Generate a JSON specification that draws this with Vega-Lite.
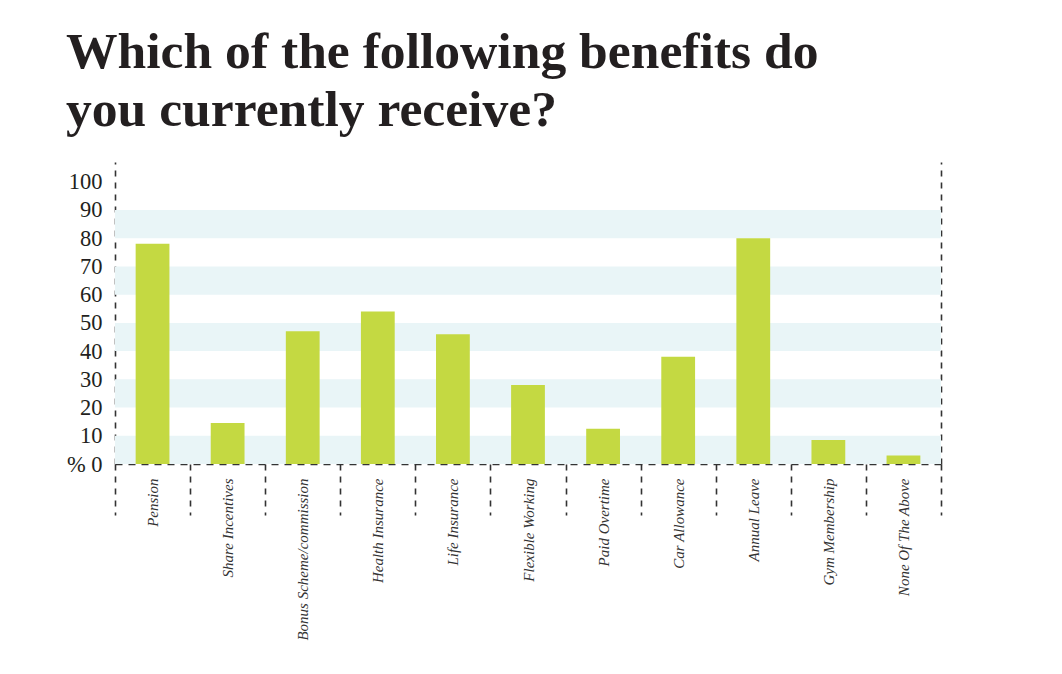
{
  "$schema": "https://vega.github.io/schema/vega-lite/v6.json",
  "autosize": "none",
  "width": 826,
  "height": 302,
  "padding": {"left": 115, "top": 162, "right": 121, "bottom": 210},
  "background": "white",
  "title": {
    "text": ["Which of the following benefits do", "you currently receive?"],
    "anchor": "start",
    "frame": "group",
    "font": "Liberation Serif",
    "fontSize": 51.6,
    "fontWeight": "bold",
    "color": "#231f20",
    "lineHeight": 58,
    "dx": -49,
    "offset": 25
  },
  "config": {"view": {"stroke": null}},
  "datasets": {
    "bands": [
      {"lo": 0, "hi": 10},
      {"lo": 20, "hi": 30},
      {"lo": 40, "hi": 50},
      {"lo": 60, "hi": 70},
      {"lo": 80, "hi": 90}
    ],
    "benefits": [
      {"benefit": "Pension", "pct": 78},
      {"benefit": "Share Incentives", "pct": 14.5},
      {"benefit": "Bonus Scheme/commission", "pct": 47},
      {"benefit": "Health Insurance", "pct": 54},
      {"benefit": "Life Insurance", "pct": 46},
      {"benefit": "Flexible Working", "pct": 28},
      {"benefit": "Paid Overtime", "pct": 12.5},
      {"benefit": "Car Allowance", "pct": 38},
      {"benefit": "Annual Leave", "pct": 80},
      {"benefit": "Gym Membership", "pct": 8.5},
      {"benefit": "None Of The Above", "pct": 3}
    ]
  },
  "layer": [
    {
      "data": {"name": "bands"},
      "mark": {"type": "rect", "color": "#e9f5f7"},
      "encoding": {
        "y": {
          "field": "lo",
          "type": "quantitative",
          "scale": {"domain": [0, 107], "nice": false, "zero": true},
          "axis": {
            "title": null,
            "orient": "left",
            "values": [0, 10, 20, 30, 40, 50, 60, 70, 80, 90, 100],
            "labelExpr": "datum.value == 0 ? '% 0' : datum.label",
            "ticks": false,
            "grid": false,
            "labelPadding": 13,
            "labelFont": "Liberation Serif",
            "labelFontSize": 22.5,
            "labelColor": "#231f20",
            "domainColor": "#333333",
            "domainWidth": 1.6,
            "domainDash": [6, 6]
          }
        },
        "y2": {"field": "hi"}
      }
    },
    {
      "data": {"name": "benefits"},
      "mark": {"type": "bar", "color": "#c4d942", "width": {"band": 0.45}},
      "encoding": {
        "x": {
          "field": "benefit",
          "type": "nominal",
          "sort": null,
          "scale": {"paddingInner": 0, "paddingOuter": 0},
          "axis": {
            "title": null,
            "labelAngle": 270,
            "tickBand": "extent",
            "tickSize": 51,
            "tickDash": [6, 6],
            "tickColor": "#333333",
            "tickWidth": 1.6,
            "domainDash": [7, 6],
            "domainColor": "#333333",
            "domainWidth": 1.6,
            "labelPadding": -37,
            "labelFont": "Liberation Serif",
            "labelFontStyle": "italic",
            "labelFontSize": 15,
            "labelColor": "#333333",
            "labelLimit": 300
          }
        },
        "y": {
          "field": "pct",
          "type": "quantitative",
          "axis": {
            "title": null,
            "orient": "right",
            "labels": false,
            "ticks": false,
            "grid": false,
            "domainColor": "#333333",
            "domainWidth": 1.6,
            "domainDash": [6, 6]
          }
        }
      }
    }
  ],
  "resolve": {"axis": {"y": "independent"}}
}
